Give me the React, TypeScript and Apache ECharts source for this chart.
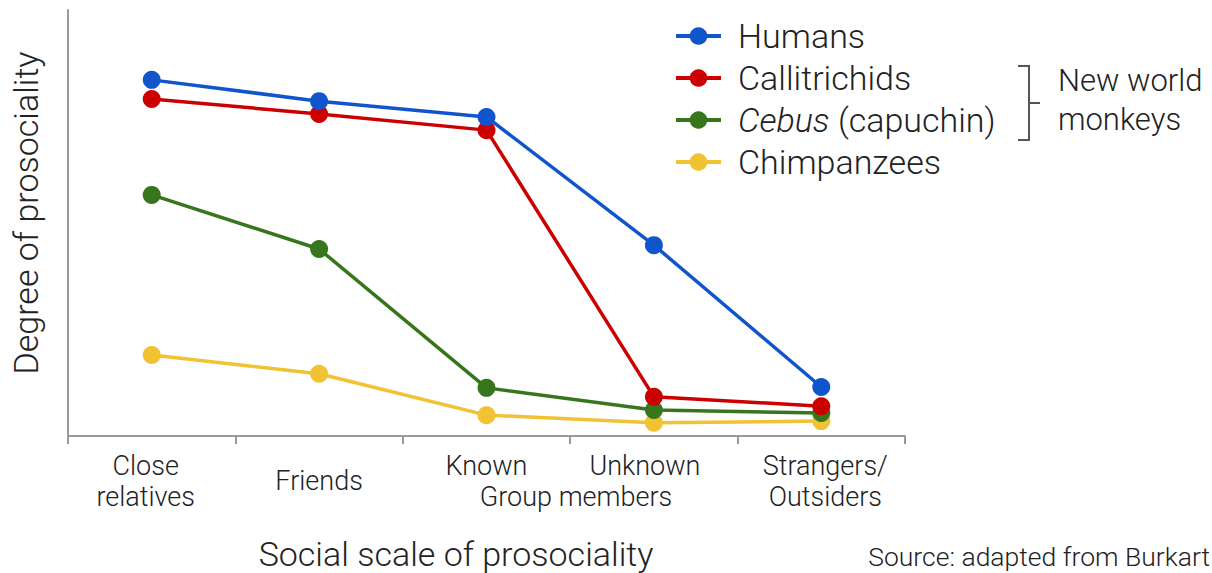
import React, { useEffect, useRef } from "react";
import * as echarts from "echarts";

const categories = ["Close\nrelatives", "Friends", "Known", "Unknown", "Strangers/\nOutsiders"];
const seriesNames = ["Humans", "Callitrichids", "Cebus (capuchin)", "Chimpanzees"];
const humans = [83.6, 78.6, 74.9, 44.8, 11.5];
const callitrichids = [79.1, 75.6, 71.8, 9.2, 7.0];
const cebus = [56.6, 43.9, 11.3, 6.1, 5.4];
const chimpanzees = [19.0, 14.6, 4.9, 3.1, 3.5];
const colors = ["#1155cc", "#cc0000", "#38761d", "#f1c232"];

const FONT = "Roboto";

export default function App() {
  const ref = useRef<HTMLDivElement>(null);
  useEffect(() => {
    if (!ref.current) return;
    const chart = echarts.init(ref.current, null, { renderer: "svg" });
    const values = [humans, callitrichids, cebus, chimpanzees];
    const textColor = "#222";
    const lab = { fontFamily: FONT, fontWeight: 300, fontSize: 27, color: textColor, lineHeight: 31 };
    const labelKey: Record<string, string> = {
      "Close\nrelatives": "c",
      Friends: "f",
      Known: "k",
      Unknown: "u",
      "Strangers/\nOutsiders": "s",
    };
    chart.setOption({
      animation: false,
      grid: { left: 68, right: 307, top: 10, bottom: 137 },
      xAxis: {
        type: "category",
        data: categories,
        boundaryGap: true,
        axisLine: { lineStyle: { color: "#999", width: 2 } },
        axisTick: { show: true, interval: 0, length: 8, lineStyle: { color: "#999", width: 2 } },
        axisLabel: {
          interval: 0,
          hideOverlap: false,
          margin: 14,
          ...lab,
          formatter: (v: string) => {
            const k = labelKey[v] || "k";
            return v
              .split("\n")
              .map((line) => "{" + k + "|" + line + "}")
              .join("\n");
          },
          rich: {
            c: { ...lab, padding: [0, 12, 0, 0] },
            f: { ...lab, lineHeight: 62 },
            k: { ...lab },
            u: { ...lab, padding: [0, 18, 0, 0] },
            s: { ...lab, padding: [0, 0, 0, 8] },
          },
        },
      },
      yAxis: {
        type: "value",
        min: 0,
        max: 100,
        axisLine: { show: true, lineStyle: { color: "#999", width: 2 } },
        axisTick: { show: false },
        axisLabel: { show: false },
        splitLine: { show: false },
        name: "Degree of prosociality",
        nameLocation: "middle",
        nameGap: 25,
        nameTextStyle: { fontFamily: FONT, fontWeight: 300, fontSize: 34, color: textColor, padding: [0, 0, 0, 20] },
      },
      legend: {
        orient: "vertical",
        left: 674,
        top: 15,
        padding: 0,
        itemWidth: 45,
        itemHeight: 22,
        itemGap: 0,
        lineStyle: { width: 4 },
        data: seriesNames,
        formatter: (n: string) => (n === "Cebus (capuchin)" ? "{i|Cebus} {n|(capuchin)}" : "{n|" + n + "}"),
        textStyle: {
          fontFamily: FONT,
          fontWeight: 300,
          fontSize: 34,
          color: textColor,
          lineHeight: 42,
          padding: [0, 0, 0, 12],
          rich: {
            n: { fontFamily: FONT, fontWeight: 300, fontSize: 34, color: textColor, lineHeight: 42 },
            i: { fontFamily: FONT, fontWeight: 300, fontStyle: "italic", fontSize: 34, color: textColor, lineHeight: 42 },
          },
        },
      },
      series: seriesNames.map((name, i) => ({
        name,
        type: "line",
        data: values[i],
        symbol: "circle",
        symbolSize: 18,
        color: colors[i],
        lineStyle: { width: 3.5, color: colors[i] },
        itemStyle: { color: colors[i] },
        z: 10 - i,
      })),
      graphic: [
        {
          type: "text",
          x: 576,
          y: 497,
          style: {
            text: "Group members",
            fontFamily: FONT,
            fontWeight: 300,
            fontSize: 27,
            fill: textColor,
            align: "center",
            verticalAlign: "middle",
          },
        },
        {
          type: "text",
          x: 456,
          y: 554,
          style: {
            text: "Social scale of prosociality",
            fontFamily: FONT,
            fontWeight: 300,
            fontSize: 34,
            fill: textColor,
            align: "center",
            verticalAlign: "middle",
          },
        },
        {
          type: "text",
          x: 1210,
          y: 556,
          style: {
            text: "Source: adapted from Burkart",
            fontFamily: FONT,
            fontWeight: 300,
            fontSize: 26.5,
            fill: textColor,
            align: "right",
            verticalAlign: "middle",
          },
        },
        {
          type: "polyline",
          shape: { points: [[1018, 66], [1029, 66], [1029, 140], [1018, 140]] },
          style: { stroke: "#555", lineWidth: 2, fill: null },
        },
        {
          type: "line",
          shape: { x1: 1029, y1: 103, x2: 1040, y2: 103 },
          style: { stroke: "#555", lineWidth: 2 },
        },
        {
          type: "text",
          x: 1058,
          y: 100,
          style: {
            text: "New world\nmonkeys",
            fontFamily: FONT,
            fontWeight: 300,
            fontSize: 31,
            lineHeight: 39,
            fill: textColor,
            align: "left",
            verticalAlign: "middle",
          },
        },
      ],
    });
    return () => chart.dispose();
  }, []);
  return <div ref={ref} style={{ position: "absolute", left: 0, top: 0, width: 1212, height: 573 }} />;
}
